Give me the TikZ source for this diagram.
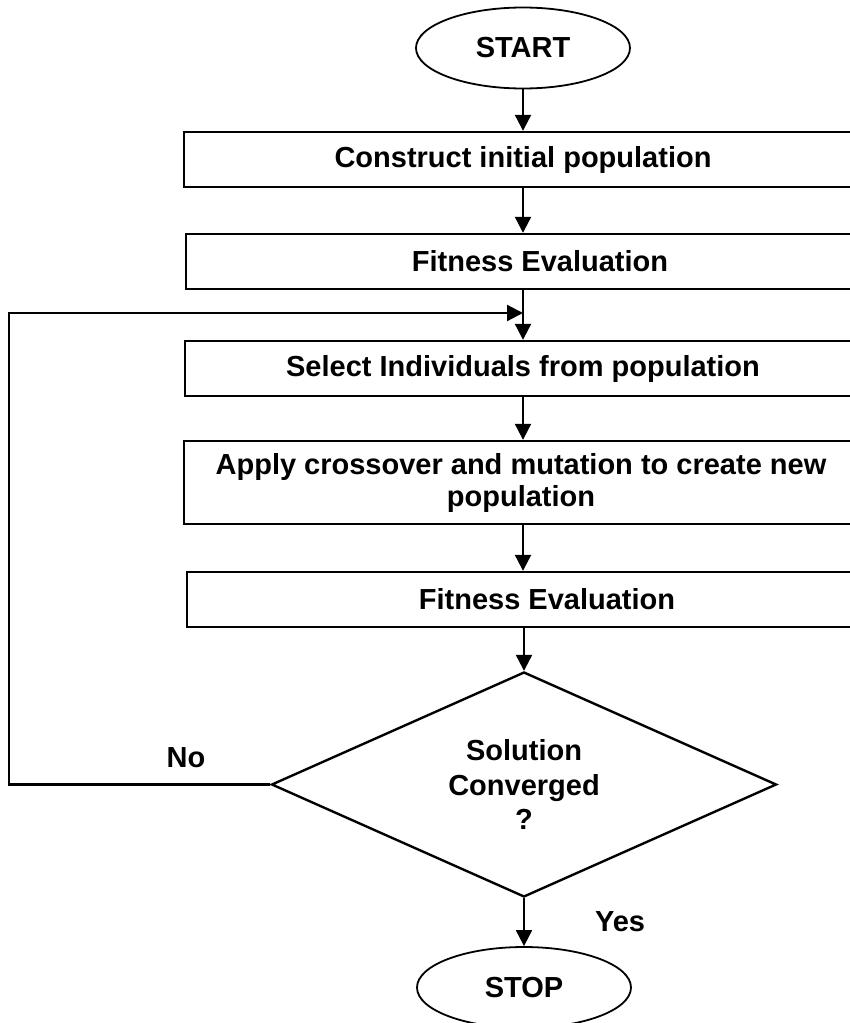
\documentclass[tikz,border=0pt]{standalone}
\usepackage{fontspec}
\setmainfont{Liberation Sans}
\usetikzlibrary{arrows.meta, positioning, shapes.geometric}

\begin{document}
\begin{tikzpicture}[x=1pt, y=-1pt,
  base/.style={font=\bfseries\fontsize{29}{34}\selectfont, inner sep=0pt},
  procbox/.style={base, draw, line width=2.4pt, rectangle, minimum height=55pt, align=center},
  termbox/.style={base, draw, line width=1.8pt, ellipse, minimum width=214pt, minimum height=81pt},
  decbox/.style={base, font=\bfseries\fontsize{29}{34.5}\selectfont, draw, line width=2.4pt, diamond, aspect=2.24, minimum width=505pt, minimum height=225pt, align=center},
  flow/.style={line width=2.2pt, -{Triangle[length=16pt, width=16pt]}}]
  \useasboundingbox (0,0) rectangle (850,1023);
  \clip (0,0) rectangle (850,1023);

  % main spine
  \coordinate (spine) at (523,0);
  \coordinate (merge) at (523,313);

  % Steps
  \node[termbox] (start) at (523,48) {START};
  \node[procbox, minimum width=678pt] (init) at (523,159.5) {Construct initial population};
  \node[procbox, minimum width=708pt] (fit1) at (540,261.5) {Fitness Evaluation};
  \node[procbox, minimum width=676pt] (select) at (523,368.5) {Select Individuals from population};
  \node[procbox, minimum width=674pt, minimum height=83pt, font=\bfseries\fontsize{29}{32}\selectfont] (apply) at (521,482.5) {Apply crossover and mutation to create new\\population};
  \node[procbox, minimum width=720pt] (fit2) at (547,599.5) {Fitness Evaluation};
  \node[decbox] (decide) at (524,784.5) {Solution\\Converged\\?};
  \node[termbox] (stop) at (524,987.5) {STOP};

  % Labels
  \node[base] (nolbl) at (186,758) {No};
  \node[base] (yeslbl) at (620,922) {Yes};

  % Arrows
  \draw[flow] (start.south) -- (spine |- init.north);
  \draw[flow] (spine |- init.south) -- (spine |- fit1.north);
  \draw[flow] (spine |- fit1.south) -- (spine |- select.north);
  \draw[flow] (spine |- select.south) -- (spine |- apply.north);
  \draw[flow] (spine |- apply.south) -- (spine |- fit2.north);
  \draw[flow] (decide.north |- fit2.south) -- (decide.north);
  \draw[flow] (decide.south) -- (stop.north);

  % loop back
  \draw[flow] (decide.west) -- ++(-261,0) |- (merge);
\end{tikzpicture}
\end{document}
